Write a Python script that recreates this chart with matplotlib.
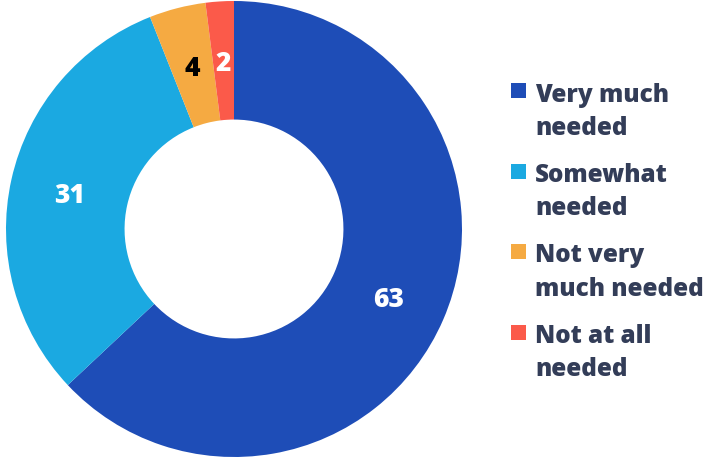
import matplotlib.pyplot as plt
from matplotlib.patches import Rectangle
from matplotlib.transforms import offset_copy

categories = ["Very much\nneeded", "Somewhat\nneeded", "Not very\nmuch needed", "Not at all\nneeded"]
values = [63, 31, 4, 2]
colors = ["#1e4db7", "#1ba9e1", "#f5aa42", "#fb5a4a"]
label_colors = ["white", "white", "black", "white"]

plt.rcParams['font.family'] = ['Open Sans', 'DejaVu Sans']
W, H = 704, 460
fig = plt.figure(figsize=(W / 100, H / 100), dpi=100)

# donut axes, centre at (234, 230) px, radius 228 px
ax = fig.add_axes([(234 - 228) / W, (230 - 228) / H, 456 / W, 456 / H])
wedges, texts = ax.pie(values, colors=colors, startangle=90, counterclock=False,
                       radius=1.0, wedgeprops=dict(width=0.52, linewidth=0),
                       labels=[str(v) for v in values], labeldistance=0.74)
# baseline sits ~9.5 px below the label centre
shift = offset_copy(ax.transData, fig=fig, x=0, y=-9.5, units='dots')
for t, c in zip(texts, label_colors):
    t.set_color(c)
    t.set_fontsize(19)
    t.set_fontweight('heavy')
    t.set_ha('center')
    t.set_va('baseline')
    t.set_transform(shift)
ax.set_xlim(-1, 1)
ax.set_ylim(-1, 1)
ax.set_aspect('equal')
ax.axis('off')

# legend drawn by hand
text_color = "#333d58"
for i, (cat, col) in enumerate(zip(categories, colors)):
    cy = 91.5 + i * 80.5
    fig.patches.append(Rectangle((511 / W, 1 - (cy + 7.5) / H), 15 / W, 15 / H,
                                 transform=fig.transFigure, facecolor=col, edgecolor='none'))
    for j, line in enumerate(cat.split("\n")):
        fig.text(535 / W, 1 - (cy + 10 + j * 33.5) / H, line, ha='left', va='baseline',
                 fontsize=17.5, fontweight='heavy', color=text_color)

fig.savefig("out.png", dpi=100)
